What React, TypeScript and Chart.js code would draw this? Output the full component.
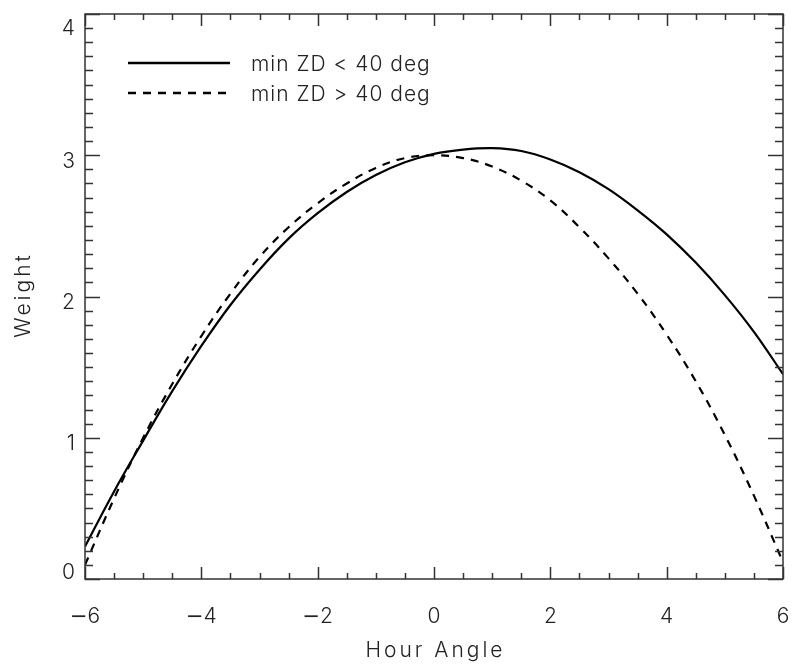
import React, { useEffect, useRef } from "react";
import { Chart, registerables } from "chart.js";

Chart.register(...registerables);

const hourAngle = [-6, -5.5, -5, -4.5, -4, -3.5, -3, -2.5, -2, -1.5, -1, -0.5, 0, 0.5, 1, 1.5, 2, 2.5, 3, 3.5, 4, 4.5, 5, 5.5, 6];
const weightLowZD = [0.23, 0.62, 0.98, 1.33, 1.65, 1.94, 2.19, 2.41, 2.59, 2.74, 2.86, 2.95, 3.01, 3.04, 3.05, 3.03, 2.97, 2.88, 2.76, 2.61, 2.44, 2.24, 2.01, 1.75, 1.45];
const weightHighZD = [0.1, 0.57, 1.0, 1.38, 1.72, 2.02, 2.28, 2.49, 2.66, 2.8, 2.91, 2.98, 3.0, 2.98, 2.92, 2.82, 2.68, 2.49, 2.27, 2.02, 1.73, 1.4, 1.02, 0.59, 0.12];

const seriesLabels = ["min ZD < 40 deg", "min ZD > 40 deg"];
const xTickValues = [-6, -4, -2, 0, 2, 4, 6];
const xTickLabels = ["\u22126", "\u22124", "\u22122", "0", "2", "4", "6"];
const yTickValues = [0, 1, 2, 3, 4];
const yTickLabels = ["0", "1", "2", "3", "4"];
const xTitle = "Hour Angle";
const yTitle = "Weight";

const FONT = '300 21px Inter, "DejaVu Sans", sans-serif';
const MINUS_FONT = '21px "DejaVu Sans", sans-serif';
const INK = "#222";

function drawTickLabel(ctx: CanvasRenderingContext2D, label: string, cx: number, by: number) {
  const hasMinus = label.startsWith("\u2212");
  const digits = hasMinus ? label.slice(1) : label;
  ctx.font = FONT;
  const wd = ctx.measureText(digits).width;
  let wm = 0;
  if (hasMinus) {
    ctx.font = MINUS_FONT;
    wm = ctx.measureText("\u2212").width;
  }
  const total = wm + wd;
  let x = cx - total / 2;
  ctx.textAlign = "left";
  if (hasMinus) {
    ctx.font = MINUS_FONT;
    ctx.fillText("\u2212", x, by);
    x += wm;
  }
  ctx.font = FONT;
  ctx.fillText(digits, x, by);
}

const idlAxesPlugin = {
  id: "idlAxes",
  afterDraw(chart: any) {
    const { ctx, chartArea } = chart;
    const xs = chart.scales.x;
    const ys = chart.scales.y;
    const { left, right, top, bottom } = chartArea;
    ctx.save();
    ctx.strokeStyle = "#333";
    ctx.lineWidth = 1.5;
    ctx.strokeRect(left, top, right - left, bottom - top);

    ctx.beginPath();
    for (let i = 0; i <= 24; i++) {
      const v = -6 + i * 0.5;
      const px = Math.round(xs.getPixelForValue(v)) + 0.5;
      const len = i % 4 === 0 ? 12 : 6;
      ctx.moveTo(px, bottom);
      ctx.lineTo(px, bottom - len);
      ctx.moveTo(px, top);
      ctx.lineTo(px, top + len);
    }
    for (let i = 0; i <= 40; i++) {
      const v = i * 0.1;
      const py = Math.round(ys.getPixelForValue(v)) + 0.5;
      const len = i % 10 === 0 ? 15 : 8;
      ctx.moveTo(left, py);
      ctx.lineTo(left + len, py);
      ctx.moveTo(right, py);
      ctx.lineTo(right - len, py);
    }
    ctx.stroke();

    ctx.fillStyle = INK;
    ctx.textBaseline = "alphabetic";
    xTickValues.forEach((v, i) => {
      drawTickLabel(ctx, xTickLabels[i], xs.getPixelForValue(v), bottom + 44);
    });
    ctx.font = FONT;
    ctx.textAlign = "right";
    yTickValues.forEach((v, i) => {
      let by = ys.getPixelForValue(v) + 12.5;
      by = Math.max(top + 21, Math.min(bottom, by));
      ctx.fillText(yTickLabels[i], left - 10, by);
    });

    (ctx as any).letterSpacing = "3px";
    ctx.textAlign = "center";
    ctx.fillText(xTitle, (left + right) / 2 + 1.5, bottom + 78);
    ctx.save();
    ctx.translate(30, (top + bottom) / 2);
    ctx.rotate(-Math.PI / 2);
    ctx.fillText(yTitle, 1.5, 0);
    ctx.restore();
    (ctx as any).letterSpacing = "1px";

    const rows = [
      { y: 63, dash: [] as number[] },
      { y: 93, dash: [8, 7] },
    ];
    rows.forEach((r, i) => {
      ctx.save();
      ctx.strokeStyle = "#000";
      ctx.lineWidth = 2.5;
      ctx.setLineDash(r.dash);
      ctx.beginPath();
      ctx.moveTo(left + 43, r.y);
      ctx.lineTo(left + 145, r.y);
      ctx.stroke();
      ctx.restore();
      ctx.textAlign = "left";
      ctx.fillText(seriesLabels[i], left + 166, r.y + 8);
    });
    ctx.restore();
  },
};

export default function App() {
  const ref = useRef<HTMLCanvasElement | null>(null);
  useEffect(() => {
    if (!ref.current) return;
    const chart = new Chart(ref.current, {
      type: "line",
      data: {
        datasets: [
          {
            label: seriesLabels[0],
            data: hourAngle.map((x, i) => ({ x, y: weightLowZD[i] })),
            borderColor: "#000",
            borderWidth: 2.2,
            pointRadius: 0,
            tension: 0.4,
            fill: false,
          },
          {
            label: seriesLabels[1],
            data: hourAngle.map((x, i) => ({ x, y: weightHighZD[i] })),
            borderColor: "#000",
            borderWidth: 2.2,
            borderDash: [8, 7],
            pointRadius: 0,
            tension: 0.4,
            fill: false,
          },
        ],
      },
      options: {
        responsive: false,
        animation: false,
        devicePixelRatio: 1,
        layout: { padding: { left: 85, right: 10, top: 14, bottom: 88 } },
        plugins: { legend: { display: false }, tooltip: { enabled: false } },
        scales: {
          x: { type: "linear", min: -6, max: 6, display: false },
          y: { type: "linear", min: 0, max: 4, display: false },
        },
      },
      plugins: [idlAxesPlugin],
    });
    return () => chart.destroy();
  }, []);
  return (
    <div style={{ position: "fixed", left: 0, top: 0, width: 793, height: 667, background: "#fff" }}>
      <canvas ref={ref} width={793} height={667} style={{ display: "block" }} />
    </div>
  );
}
